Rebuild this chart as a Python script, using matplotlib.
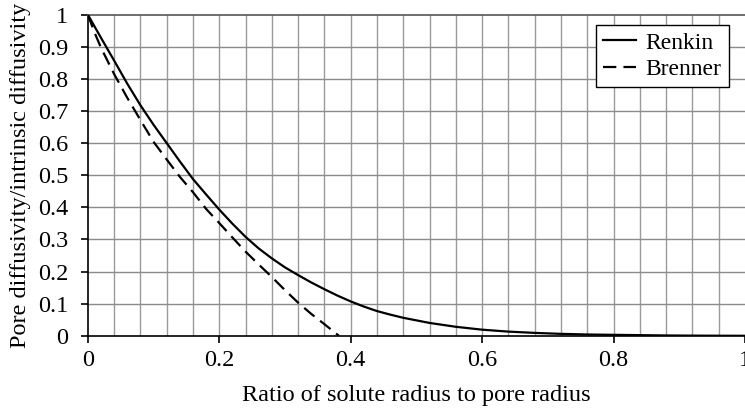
import numpy as np
import matplotlib
matplotlib.use('Agg')
import matplotlib.pyplot as plt

# Ratio of solute radius to pore radius
lam_renkin = [0.0, 0.02, 0.04, 0.06, 0.08, 0.10, 0.12, 0.14, 0.16, 0.18, 0.20,
              0.22, 0.24, 0.26, 0.28, 0.30, 0.32, 0.34, 0.36, 0.38, 0.40,
              0.42, 0.44, 0.46, 0.48, 0.52, 0.56, 0.60, 0.64, 0.68, 0.72, 0.76, 0.80,
              0.84, 0.88, 0.92, 0.96, 1.0]
renkin = [1.0, 0.928, 0.857, 0.785, 0.718, 0.657, 0.600, 0.543, 0.488, 0.440, 0.393,
          0.349, 0.308, 0.272, 0.241, 0.213, 0.189, 0.166, 0.145, 0.125, 0.107,
          0.091, 0.077, 0.066, 0.056, 0.040, 0.028, 0.019, 0.013, 0.009, 0.006, 0.004, 0.003,
          0.002, 0.001, 0.0005, 0.0002, 0.0]

lam_brenner = [0.0, 0.01, 0.02, 0.04, 0.06, 0.08, 0.10, 0.12, 0.14, 0.16, 0.18, 0.20,
               0.22, 0.24, 0.26, 0.28, 0.30, 0.32, 0.34, 0.36, 0.382]
brenner = [1.0, 0.945, 0.897, 0.815, 0.741, 0.672, 0.604, 0.549, 0.495, 0.447, 0.395, 0.351,
           0.306, 0.262, 0.222, 0.183, 0.142, 0.103, 0.068, 0.036, 0.0]

plt.rcParams['font.family'] = ['Liberation Serif', 'DejaVu Serif']
plt.rcParams['font.size'] = 17.5

fig = plt.figure(figsize=(7.45, 4.11), dpi=100)
ax = fig.add_axes([0.118, 0.183, 0.882, 0.781])

ax.plot(lam_renkin, renkin, color='black', lw=1.6, label='Renkin', zorder=5)
ax.plot(lam_brenner, brenner, color='black', lw=1.6, ls=(0, (6, 3.2)), label='Brenner', zorder=5)

ax.set_xlim(0, 1)
ax.set_ylim(0, 1)
ax.set_xticks(np.arange(0, 1.01, 0.2))
ax.set_xticklabels(['0', '0.2', '0.4', '0.6', '0.8', '1'])
ax.set_yticks(np.arange(0, 1.01, 0.1))
ax.set_yticklabels(['0', '0.1', '0.2', '0.3', '0.4', '0.5', '0.6', '0.7', '0.8', '0.9', '1'])

# grid: every 0.04 along x, every 0.1 along y
for gx in np.arange(0.04, 1.0, 0.04):
    ax.axvline(gx, color='#9a9a9a', lw=1.0, zorder=1)
for gy in np.arange(0.1, 1.0, 0.1):
    ax.axhline(gy, color='#8a8a8a', lw=1.0, zorder=1)

ax.spines['right'].set_visible(False)
ax.spines['top'].set_color('#555555')
ax.spines['top'].set_linewidth(1.2)
ax.spines['left'].set_linewidth(1.2)
ax.spines['bottom'].set_linewidth(1.2)
ax.tick_params(direction='out', length=5, width=1.2)
ax.tick_params(axis='x', pad=5)
ax.tick_params(axis='y', pad=9)

ax.set_xlabel('Ratio of solute radius to pore radius', labelpad=10)
ax.set_ylabel('Pore diffusivity/intrinsic diffusivity', labelpad=5)

leg = ax.legend(loc='upper right', bbox_to_anchor=(0.975, 0.968), fancybox=False,
                framealpha=1, edgecolor='black', fontsize=17, handlelength=1.4,
                borderpad=0.3, labelspacing=0.2, handletextpad=0.4, borderaxespad=0.0)
leg.get_frame().set_linewidth(1.0)

fig.savefig('out.png', dpi=100)
